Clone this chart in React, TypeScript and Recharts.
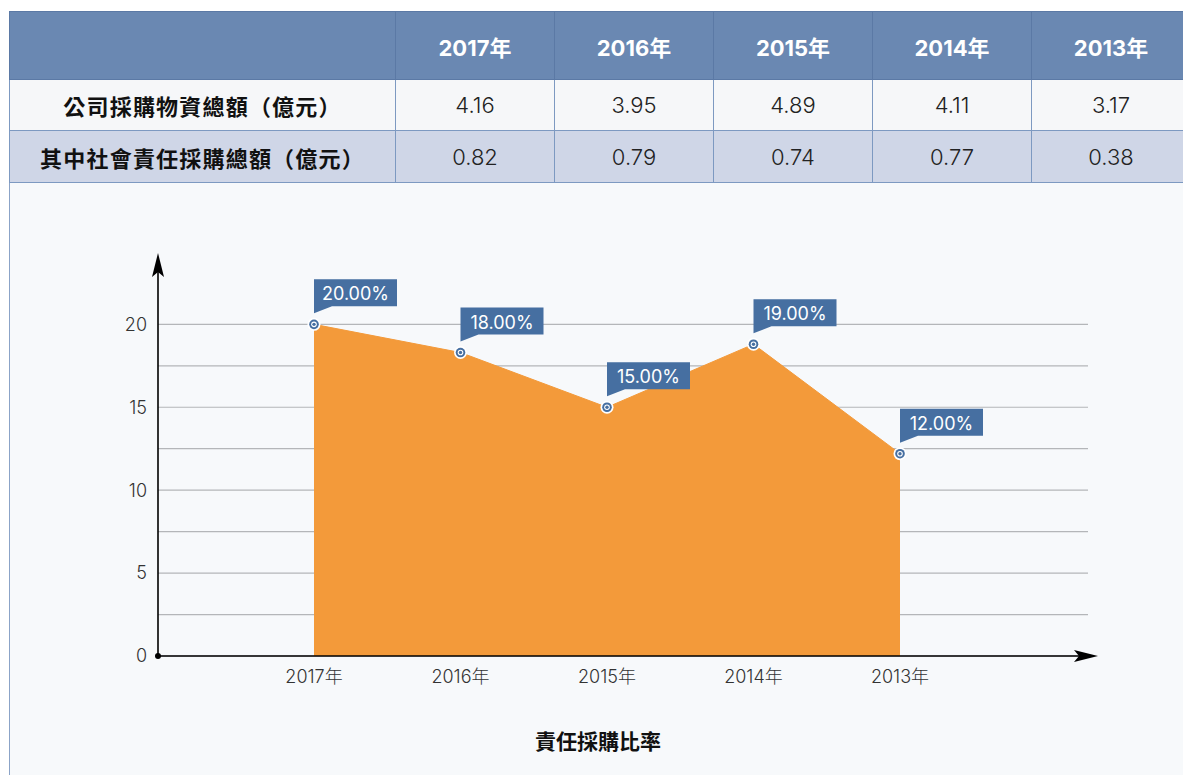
import { AreaChart, Area, XAxis, YAxis, CartesianGrid, LabelList } from 'recharts';

const years = ['2017年', '2016年', '2015年', '2014年', '2013年'];
const purchaseTotal = ['4.16', '3.95', '4.89', '4.11', '3.17'];
const socialTotal = ['0.82', '0.79', '0.74', '0.77', '0.38'];
const ratioValues = [20, 18.3, 15, 18.8, 12.2];
const ratioLabels = ['20.00%', '18.00%', '15.00%', '19.00%', '12.00%'];
const yTicks = [0, 2.5, 5, 7.5, 10, 12.5, 15, 17.5, 20];

const chartData = years.map((year, i) => ({ year, value: ratioValues[i], label: ratioLabels[i] }));

const FONT = "Inter, 'Noto Sans CJK TC', sans-serif";
const BLUE = '#466fa1';

const cellBorder = '1px solid #7d99c1';

const PointDot = (props: any) => {
  const { cx, cy } = props;
  if (cx == null || cy == null) return null;
  return (
    <g>
      <circle cx={cx} cy={cy} r={6.5} fill="#ffffff" />
      <circle cx={cx} cy={cy} r={4.8} fill={BLUE} />
      <circle cx={cx} cy={cy} r={2.8} fill="#ffffff" />
      <circle cx={cx} cy={cy} r={1.7} fill={BLUE} />
    </g>
  );
};

const Callout = (props: any) => {
  const { x, y, value } = props;
  if (x == null || y == null) return null;
  const w = 83;
  const h = 27;
  const bottom = y - 18;
  return (
    <g>
      <path
        d={`M${x},${bottom - h} L${x + w},${bottom - h} L${x + w},${bottom} L${x + 18},${bottom} L${x},${bottom + 7} Z`}
        fill={BLUE}
      />
      <text
        x={x + w / 2}
        y={bottom - h / 2 + 1}
        textAnchor="middle"
        dominantBaseline="central"
        fill="#ffffff"
        fontSize={18}
        fontFamily={FONT}
      >
        {value}
      </text>
    </g>
  );
};

const yTickFormat = (v: number) => (v % 5 === 0 ? String(v) : '');

export default function App() {
  return (
    <div style={{ position: 'absolute', left: 0, top: 0, width: 1183, height: 775, overflow: 'hidden', background: '#ffffff', fontFamily: FONT }}>
      <div style={{ position: 'absolute', left: 9, top: 182, width: 1180, height: 600, background: '#f7f9fb', borderLeft: '1px solid #8ba3c7' }} />

      <table
        style={{
          position: 'absolute',
          left: 9,
          top: 11,
          width: 1181,
          borderCollapse: 'collapse',
          tableLayout: 'fixed',
          fontFamily: FONT,
          fontSize: 22,
          textAlign: 'center'
        }}
      >
        <colgroup>
          <col style={{ width: 386 }} />
          {years.map((y) => <col key={y} style={{ width: 159 }} />)}
        </colgroup>
        <tbody>
          <tr style={{ height: 68, background: '#6a88b2', color: '#ffffff', fontWeight: 700 }}>
            <td style={{ border: '1px solid #5b79a5' }}></td>
            {years.map((y) => <td key={y} style={{ border: '1px solid #5b79a5' }}>{y}</td>)}
          </tr>
          <tr style={{ height: 51, background: '#f6f7f9', color: '#222', fontWeight: 300 }}>
            <td style={{ border: cellBorder, fontWeight: 700, color: '#111', letterSpacing: 1.2 }}>公司採購物資總額（億元）</td>
            {purchaseTotal.map((v, i) => <td key={i} style={{ border: cellBorder }}>{v}</td>)}
          </tr>
          <tr style={{ height: 52, background: '#cfd6e7', color: '#222', fontWeight: 300 }}>
            <td style={{ border: cellBorder, fontWeight: 700, color: '#111', letterSpacing: 1.2 }}>其中社會責任採購總額（億元）</td>
            {socialTotal.map((v, i) => <td key={i} style={{ border: cellBorder }}>{v}</td>)}
          </tr>
        </tbody>
      </table>

      <div style={{ position: 'absolute', left: 0, top: 182 }}>
        <AreaChart width={1183} height={520} data={chartData} margin={{ top: 76, right: 95, bottom: 16, left: 98 }}>
          <defs>
            <marker id="arrowX" viewBox="0 0 24 12" markerUnits="userSpaceOnUse" markerWidth={24} markerHeight={12} refX={14} refY={6} orient="auto">
              <path d="M0,0 L24,6 L0,12 L5,6 Z" fill="#000" />
            </marker>
            <marker id="arrowY" viewBox="0 0 24 12" markerUnits="userSpaceOnUse" markerWidth={24} markerHeight={12} refX={19} refY={6} orient="auto-start-reverse">
              <path d="M0,0 L24,6 L0,12 L5,6 Z" fill="#000" />
            </marker>
            <marker id="originDot" viewBox="0 0 8 8" markerUnits="userSpaceOnUse" markerWidth={8} markerHeight={8} refX={4} refY={4}>
              <circle cx={4} cy={4} r={3} fill="#000" />
            </marker>
          </defs>
          <CartesianGrid vertical={false} horizontalValues={yTicks} stroke="#b4b6b9" strokeWidth={1.2} />
          <XAxis
            dataKey="year"
            padding={{ left: 156, right: 188 }}
            tickLine={false}
            tickMargin={8}
            axisLine={{ stroke: '#000', strokeWidth: 1.6, markerEnd: 'url(#arrowX)', markerStart: 'url(#originDot)' }}
            tick={{ fill: '#333', fontSize: 18, fontWeight: 300, fontFamily: FONT }}
            height={30}
          />
          <YAxis
            domain={[0, 24]}
            ticks={yTicks}
            tickFormatter={yTickFormat}
            width={60}
            tickLine={false}
            tickMargin={5}
            axisLine={{ stroke: '#000', strokeWidth: 1.6, markerStart: 'url(#arrowY)' }}
            tick={{ fill: '#333', fontSize: 18, fontWeight: 300, fontFamily: FONT }}
            allowDataOverflow
          />
          <Area
            type="linear"
            dataKey="value"
            fill="#f39a3a"
            fillOpacity={1}
            stroke="#f39a3a"
            strokeWidth={1}
            dot={<PointDot />}
            activeDot={false}
            isAnimationActive={false}
          >
            <LabelList dataKey="label" content={<Callout />} />
          </Area>
        </AreaChart>
      </div>

      <div style={{ position: 'absolute', left: 448, top: 730, width: 300, textAlign: 'center', fontSize: 21, fontWeight: 700, color: '#111', lineHeight: '24px' }}>
        責任採購比率
      </div>
    </div>
  );
}
